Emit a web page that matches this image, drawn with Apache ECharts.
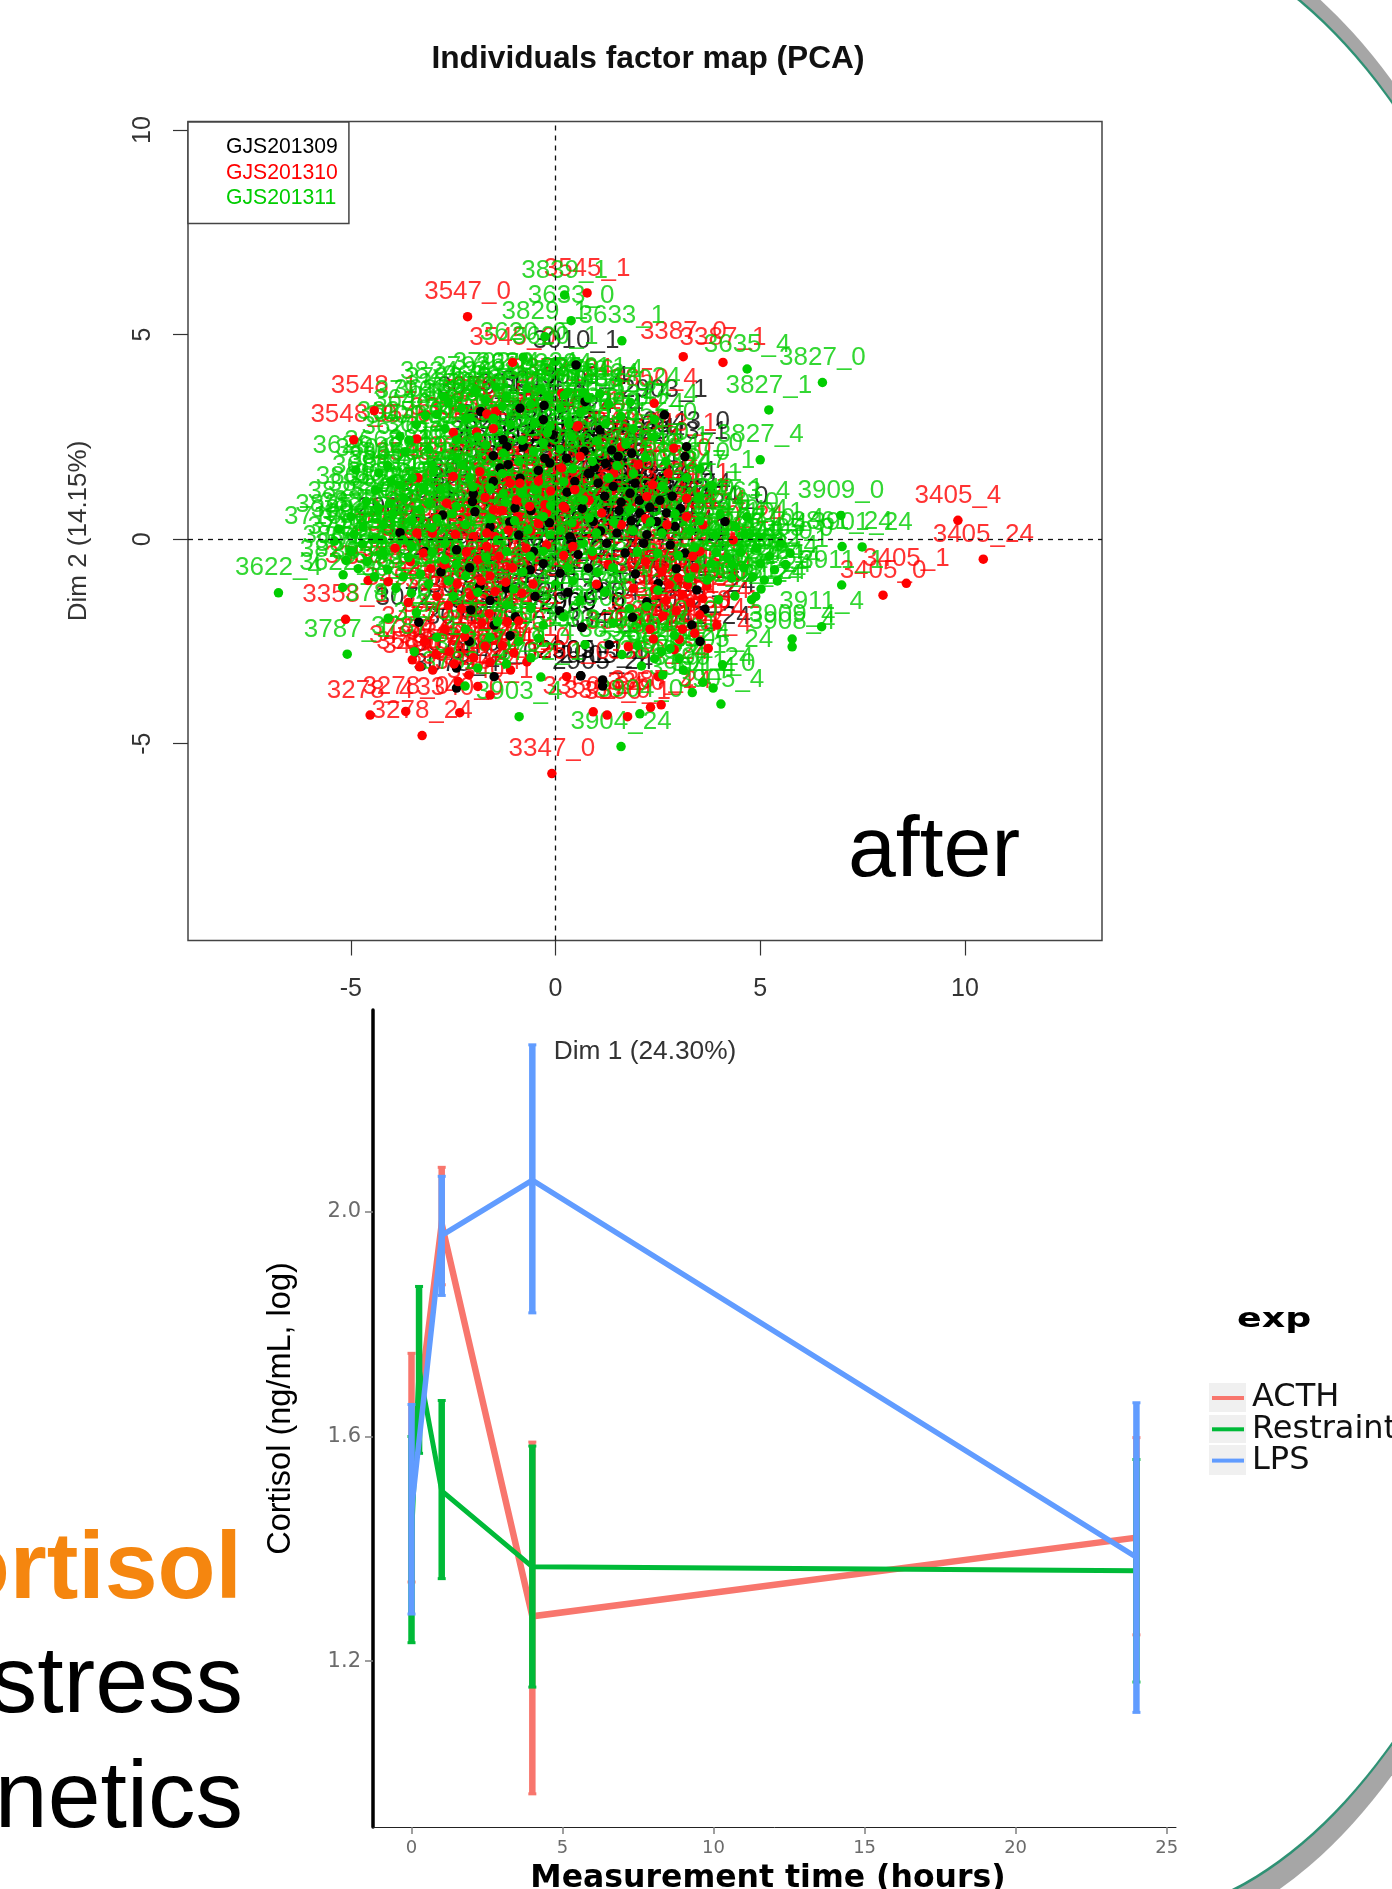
<!DOCTYPE html>
<html><head><meta charset="utf-8">
<style>html,body{margin:0;padding:0;background:#fff;overflow:hidden}#c{width:1392px;height:1889px}</style>
<script src="https://cdn.jsdelivr.net/npm/echarts@6/dist/echarts.min.js"></script>
</head><body><div id="c"></div>
<script>
// Individuals factor map: [dim1, dim2, label]
const batch09 = [
[.5,4.26,'3010_1'],[-.28,3.27,'3017_0'],[-.87,3.2,'3011_4'],[-1.83,3.12,'3076_1'],[.72,3.36,'3013_4'],[-.3,2.92,'2904_0'],[-1.28,2.43,'3017_1'],[-1.19,2.26,'3012_0'],[-.79,2.26,'2967_4'],[-1.52,2.04,'3076_4'],[-1.16,1.82,'3011_24'],[-1.36,1.74,'2903_24'],[-.26,1.98,'3010_0'],[-.14,1.86,'3012_4'],[.27,1.98,'2904_1'],[-.42,1.68,'3076_0'],[-.06,2.55,'2967_1'],[.47,1.41,'3010_24'],[-2.01,1.11,'3017_4'],[-2.03,.92,'2903_0'],[-1.97,.67,'3013_0'],[-2.76,.59,'3011_0'],[-3.8,.16,'2908_1'],[.39,-.02,'2908_0'],[-.87,1.49,'3012_1'],[-1.52,1.41,'2967_0'],[-.99,.76,'2908_4'],[-2.42,-.26,'3013_1'],[-.54,-.3,'2904_4'],[.8,1.61,'2908_24'],
[3.2,2.26,'2943_0'],[3.16,2.02,'2943_1'],[2.66,3.04,'2903_1'],[1.86,2.1,'2943_4'],[1.37,2.18,'3024_0'],[1.53,2.02,'3024_1'],[1.08,2.67,'3024_4'],[.84,1.61,'3024_24'],[1.04,1.37,'2943_24'],[1.41,1.29,'2960_0'],[1.82,1.12,'2960_1'],[1.94,1.37,'2960_4'],[2.06,.64,'2960_24'],[2.47,.43,'3117_4'],[2.71,.64,'3117_0'],[2.92,.31,'3117_1'],[2.23,.11,'3117_24'],[4.14,.43,'2954_0'],[3.16,-.34,'2954_1'],[.92,.43,'2954_4'],[1.25,-.1,'2954_24'],[.35,.06,'3030_0'],[1.7,-.34,'3030_1'],[2.8,-.14,'3030_4'],
[.8,-.71,'3030_24'],[.11,-.83,'3041_0'],[3.45,-1.24,'3041_1'],[2.51,-1.08,'3041_4'],[3.53,-2.5,'3041_24'],[3.33,-2.1,'3052_1'],[3.65,-1.71,'3007_24'],[1.88,-1.91,'2904_24'],[2.23,-1.53,'3052_0'],[.64,-2.15,'2905_0'],[.61,-3.34,'2905_1'],[1.15,-3.44,'2905_4'],[1.15,-3.59,'2905_24'],[1.31,-2.58,'3340_0'],[-3.34,-2.03,'3072_1'],[-2.42,-3.15,'3072_0'],[-2.42,-3.64,'3078_4'],[-1.5,-3.36,'3078_0'],[-2.11,-2.5,'3078_1'],[-1.11,-2.36,'3078_24'],[-2.07,-1.73,'3072_4'],[.62,-3.34,'2909_1'],[.65,-2.16,'2909_0'],
[-1.6,.3,'3065_0'],[-.9,.1,'3065_1'],[-.3,-.6,'3065_4'],[-1.2,-1.2,'3065_24'],[-2.1,-.7,'3091_0'],[-1.6,-1.5,'3091_1'],[-.5,-1.4,'3091_4'],[.3,-1.3,'3091_24'],[-2.8,-.8,'3102_0'],[-3.2,-.3,'3102_1'],[-.6,.7,'3102_4'],[1.6,.9,'3102_24'],[.2,.8,'3120_0'],[-1.5,-2.1,'3120_1'],[1.1,.2,'3120_4'],
[1.2,1.05,'3122_0'],[1.55,.7,'3122_1'],[1.85,.45,'3122_4'],[2.05,.95,'3122_24'],[2.3,.78,'3134_0'],[2.55,.95,'3134_1'],[2.85,1.05,'3134_4'],[3.05,.75,'3134_24'],[2.6,.2,'3141_0'],[2.15,-.1,'3141_1'],[1.5,.15,'3141_4'],[.65,.75,'3141_24'],[.95,1.75,'3150_0'],[1.22,1.85,'3150_1'],[.7,2.15,'3150_4'],[.28,1.15,'3150_24'],[-.15,.4,'3163_0'],[-.62,-.75,'3163_1'],[-1.85,-1.15,'3163_4'],[-.98,-1.9,'3163_24'],[.1,-1.75,'3170_0'],[1.05,-1.15,'3170_1'],[1.95,-.85,'3170_4'],[2.95,-.72,'3170_24'],[.55,-.38,'3182_0'],[-1.12,.42,'3182_1']
];
const batch10 = [
[9.83,.46,'3405_4'],[10.45,-.49,'3405_24'],[8.57,-1.08,'3405_1'],[8,-1.37,'3405_0'],[-.09,-5.73,'3347_0'],[-2.15,5.44,'3547_0'],[.77,6.02,'3545_1'],[3.12,4.46,'3387_0'],[4.09,4.32,'3387_1'],[-4.43,3.14,'3548_1'],[-4.93,2.43,'3548_0'],[-3.39,2.45,'3546_4'],[-3.36,1.5,'3546_1'],[-1.05,4.32,'3545_0'],[2.41,3.32,'3850_4'],[2.89,2.22,'3843_1'],
[-4.53,-4.3,'3278_4'],[-3.66,-4.21,'3278_0'],[-2.34,-4.24,'3340_0'],[-3.26,-4.8,'3278_24'],[-1.6,-3.81,'3340_1'],[-1.9,-3.6,'3340_4'],[-2.38,-3.48,'3340_24'],[-4.58,-1.01,'3358_0'],[-5.13,-1.96,'3358_1'],[-4.09,-1.04,'3358_4'],[.92,-4.22,'3350_24'],[1.26,-4.3,'3350_0'],[1.76,-4.34,'3350_1'],[2.32,-4.11,'3350_4'],[2.58,-4.05,'3387_24'],[3.73,-2.67,'3387_4'],[2.39,-2.44,'3359_0'],[2.31,-2.2,'3359_1'],[1.78,-2.63,'3359_4'],[.27,-3.36,'3360_0'],[2.51,-3.36,'3360_24'],[3.94,-2.1,'3360_1'],
[2.75,1.61,'3846_0'],[1.61,2.26,'3846_1'],[.6,2.02,'3846_24'],[.47,.35,'3368_0'],[1.61,.35,'3368_1'],[1.13,.64,'3368_4'],[2.23,1.04,'3368_24'],[2.37,1.33,'3370_0'],[3.2,1,'3370_1'],[3.2,.55,'3546_4'],[4.34,-.02,'3370_24'],[.23,.76,'3372_0'],[.55,2.77,'3372_1'],[3.53,-.3,'3372_4'],[.15,3.57,'3372_24'],
[-1.68,3.06,'3381_0'],[-1.46,3.12,'3381_1'],[-2.5,2.61,'3381_4'],[-1.93,2.62,'3381_24'],[-1.52,2.7,'3394_0'],[-2.5,1.53,'3394_1'],[.15,1.74,'3394_4'],[-1.85,1.65,'3394_24'],[-1.11,1.37,'3401_0'],[-.87,1.37,'3401_1'],[-.95,.96,'3401_4'],[-.63,.8,'3401_24'],[-.26,.84,'3412_0'],[-.22,.64,'3412_1'],[.19,.8,'3412_4'],[.47,1.21,'3412_24'],[-2.66,.88,'3420_0'],[-1.52,.72,'3420_1'],[-1.3,.7,'3420_4'],[-3.39,.15,'3420_24'],[-3.01,.15,'3433_0'],[-2.01,.06,'3433_1'],[-1.68,.15,'3433_4'],[-1.48,.06,'3433_24'],[-.22,-.14,'3446_0'],[-3.23,-.34,'3446_1'],[-1.68,-.18,'3446_4'],[.52,2.75,'3446_24'],
[-1.9,-.5,'3458_0'],[-1.6,-.9,'3458_1'],[-1.05,-.7,'3458_4'],[-.55,-1.1,'3458_24'],[-2.4,-1.1,'3463_0'],[-2.9,-1.4,'3463_1'],[-2.3,-1.7,'3463_4'],[-1.8,-2.05,'3463_24'],[-2.7,-2.2,'3477_0'],[-3.2,-2.5,'3477_1'],[-2.6,-2.75,'3477_4'],[-2,-2.9,'3477_24'],[-1.3,-2.6,'3489_0'],[-.9,-2,'3489_1'],[-1.6,-3,'3489_4'],[-1.1,-3.2,'3489_24'],[-.7,-3,'3490_0'],[-3.6,-1.55,'3490_1'],[-3.5,-2.95,'3490_4'],[-3,-3.2,'3490_24'],
[2.6,-.8,'3502_0'],[3,-.95,'3502_1'],[3.4,-.7,'3502_4'],[2.2,-.55,'3502_24'],[3.7,-1.15,'3515_0'],[3.1,-1.35,'3515_1'],[2.7,-1.5,'3515_4'],[3.3,-1.55,'3515_24'],[3.6,-1.45,'3528_0'],[2.95,-1.75,'3528_1'],[3.1,-2.2,'3528_4'],[3.4,-2.3,'3528_24'],[2.9,-2.7,'3534_0'],[1.9,-1.2,'3534_1'],[1,-1.1,'3534_4'],[.2,-.4,'3534_24'],[-.6,.2,'3539_0'],[.9,-.4,'3539_1'],[2.2,.5,'3539_4'],[3.6,.35,'3646_4'],
[-2.2,.32,'3551_0'],[-2.45,.12,'3551_1'],[-1.15,.22,'3551_4'],[-.92,.55,'3551_24'],[-.42,.38,'3558_0'],[-.72,-.22,'3558_1'],[-1.38,-.42,'3558_4'],[-2.18,-.32,'3558_24'],[-2.72,-.62,'3562_0'],[-3.05,-.72,'3562_1'],[-1.22,-1.05,'3562_4'],[-.82,-1.32,'3562_24'],[-1.48,-1.28,'3569_0'],[-2.08,-1.38,'3569_1'],[-2.62,-1.62,'3569_4'],[-1.62,-1.82,'3569_24'],[-1.18,-2.02,'3574_0'],[-2.22,-2.38,'3574_1'],[-2.92,-2.82,'3574_4'],[-2.48,-3.05,'3574_24'],[-1.72,-2.62,'3580_0'],[-1.02,-2.78,'3580_1'],[-3.32,-3.12,'3580_4'],[-2.12,-3.32,'3580_24'],[-1.82,-1.02,'3587_0'],[-3.55,-.55,'3587_1'],[-3.92,-.22,'3587_4'],[-2.92,.52,'3587_24'],[-.42,1.42,'3593_0'],[-1.72,1.02,'3593_1'],[-.12,1.18,'3593_4'],[.82,.95,'3593_24'],[1.42,1.62,'3602_0'],[2.02,1.82,'3602_1'],[.42,-.18,'3602_4'],[1.28,-.62,'3602_24'],[2.42,-1.22,'3608_0'],[2.78,-1.12,'3608_1'],[3.22,-1.12,'3608_4'],[3.52,-1.85,'3608_24'],[2.62,-1.88,'3612_0'],[3.02,-2.45,'3612_1'],[3.35,-.42,'3612_4'],[2.72,.35,'3612_24']
];
const batch11 = [
[-6.77,-1.31,'3622_4'],[-5.19,-.87,'3826_4'],[-5.2,-1.18,'3622_1'],[-5.09,-2.81,'3787_1'],[-4.09,-1.93,'3787_0'],[-2.21,-3.59,'3782_4'],[-.36,-3.37,'3782_1'],[-.89,-4.34,'3903_4'],[-3.45,-2.75,'3787_4'],[1.6,-5.07,'3904_24'],[2.06,-4.27,'3904_0'],[3.34,-3.75,'3904_4'],[3.85,-3.64,'3911_0'],[4.04,-4.03,'3905_4'],[4.08,-3.07,'3905_24'],[5.78,-2.44,'3909_4'],[5.78,-2.63,'3908_4'],[6.5,-2.14,'3911_4'],[6.99,-1.12,'3911_1'],[7,-.18,'3861_24'],[7.49,-.19,'3901_24'],[5.73,-.34,'3905_0'],[6.97,.58,'3909_0'],[4.67,.55,'3763_4'],[4.89,-1.4,'3908_24'],[4.79,-1.48,'3909_24'],[4.38,-1.39,'3905_1'],[3.98,-1.48,'3903_24'],[2.8,-2.67,'3903_0'],[2.59,-2.75,'3904_1'],[3.12,-3.2,'3909_1'],[.72,-2.58,'3908_0'],[1.41,-2.05,'3908_1'],[2.23,-1.65,'3911_24'],
[6.52,3.83,'3827_0'],[5.21,3.16,'3827_1'],[5,1.94,'3827_4'],[4.68,4.16,'3635_4'],[1.62,4.85,'3633_1'],[.22,5.97,'3839_1'],[.38,5.34,'3633_0'],[-.26,4.95,'3829_1'],[-4.88,1.69,'3626_1'],[-3.8,2.51,'3625_0'],[-3.68,2.14,'3626_4'],[-.79,4.45,'3620_0'],[-.01,4.34,'3620_1'],[-2.74,3.49,'3824_0'],[-2.09,2.96,'3824_1'],[-.5,2.84,'3820_0'],[-.14,2.75,'3820_1'],[-.3,2.35,'3820_4'],[-1.28,2.1,'3820_24'],[-.54,2.14,'3903_1'],[-2.29,1.82,'3826_0'],[-1.6,1.25,'3826_1'],[-1.28,1.11,'3826_24'],[-2.42,.8,'3829_0'],[-2.99,1.65,'3829_4'],[-4.33,.76,'3829_24'],[-4.05,.88,'3625_1'],[.68,.96,'3625_4'],[-.14,.1,'3625_24'],[.68,-.1,'3626_0'],[-.67,.23,'3626_24'],[-3.72,-.02,'3622_0'],[-2.7,-.1,'3622_24'],[-4.21,-.34,'3633_4'],
[-2.3,3.2,'3630_0'],[-1.7,3.4,'3630_1'],[-1.2,3.5,'3630_4'],[-.7,3.7,'3630_24'],[-.2,3.5,'3635_0'],[.3,3.6,'3635_1'],[.8,3.45,'3635_24'],[1.3,3.3,'3638_0'],[-2.9,3.05,'3638_1'],[-2.2,2.95,'3638_4'],[-1.3,3.25,'3638_24'],[-.6,3.3,'3641_0'],[.1,3.2,'3641_1'],[.6,3.1,'3641_4'],[1.6,3,'3641_24'],[-3.4,2.8,'3644_0'],[-2.7,2.7,'3644_1'],[-1.9,2.5,'3644_4'],[-1.1,2.8,'3644_24'],[-.2,2.6,'3650_0'],[.4,2.5,'3650_1'],[1,2.4,'3650_4'],[1.9,2.7,'3650_24'],[2.4,2.5,'3655_0'],[-3.1,2.2,'3655_1'],[-2.4,2,'3655_4'],[-1.7,2.3,'3655_24'],[-.9,1.9,'3661_0'],[.1,2.2,'3661_1'],[.9,1.9,'3661_4'],[1.5,1.8,'3661_24'],[2.2,2,'3668_0'],[2.7,1.9,'3668_1'],
[-4.1,1.8,'3668_4'],[-3.5,1.5,'3668_24'],[-2.8,1.2,'3673_0'],[-2.1,1.5,'3673_1'],[-1.3,1.6,'3673_4'],[-.5,1.2,'3673_24'],[.2,1.4,'3680_0'],[1.3,1.5,'3680_1'],[1.9,1.6,'3680_4'],[2.6,1.3,'3680_24'],[3.2,1.5,'3686_0'],[3.5,1,'3686_1'],[-4.4,1.2,'3686_4'],[-3.7,1,'3686_24'],[-3.1,.9,'3690_0'],[-5,.55,'3825_0'],[-5.3,.25,'3825_1'],[-4.7,.3,'3825_4'],[-4.2,.35,'3825_24'],[-3.5,.45,'3692_0'],[-2.9,.5,'3692_1'],[-2.2,.35,'3692_4'],[-1.6,.5,'3692_24'],[-1,.45,'3698_0'],[-.3,.55,'3698_1'],[.4,.4,'3698_4'],[1,.15,'3698_24'],[1.9,.2,'3703_0'],[2.6,.15,'3703_1'],[3.3,.2,'3703_4'],[3.9,.1,'3703_24'],[4.4,.3,'3710_0'],[5,.05,'3710_1'],[5.5,-.1,'3710_4'],
[-5.4,-.05,'3710_24'],[-5,-.3,'3715_0'],[-4.6,-.55,'3715_1'],[-4.1,-.75,'3715_4'],[-3.6,-.45,'3715_24'],[-3.3,-.85,'3722_0'],[-2.7,-.5,'3722_1'],[-2.2,-.9,'3722_4'],[-1.7,-.45,'3722_24'],[-1.2,-.3,'3728_0'],[-.8,-.8,'3728_1'],[-.3,-.3,'3728_4'],[.3,-.7,'3728_24'],[.9,-.3,'3733_0'],[1.4,-.7,'3733_1'],[2,-.3,'3733_4'],[2.5,-.35,'3733_24'],[3,-.4,'3741_0'],[3.4,-.2,'3741_1'],[3.8,-.6,'3741_4'],[4.2,-.45,'3741_24'],[4.6,-.7,'3746_0'],[5,-.6,'3746_1'],[5.35,-.75,'3746_4'],[4.3,-.95,'3746_24'],[3.7,-1,'3752_0'],[5.1,-1,'3752_1'],
[-3.9,-1.2,'3752_4'],[-3.1,-1.1,'3752_24'],[-2.5,-1.4,'3760_0'],[-1.9,-1.3,'3760_1'],[-1.2,-1.6,'3760_4'],[-.6,-1.7,'3760_24'],[0,-1.1,'3766_0'],[.6,-1.5,'3766_1'],[1.2,-1.3,'3766_4'],[1.8,-1.7,'3766_24'],[2.5,-1.25,'3770_0'],[-3.4,-1.8,'3770_1'],[-2.9,-2.4,'3770_4'],[-2.2,-2.2,'3770_24'],[-1.6,-2.4,'3775_0'],[-.9,-2.5,'3775_1'],[-.3,-2.1,'3775_4'],[.2,-1.9,'3775_24'],[-1.9,-3.15,'3778_0'],[-1.2,-3.05,'3778_1'],[-.6,-2.9,'3778_4'],[2,-2.6,'3778_24'],[2.9,-2.35,'3790_0'],[3.25,-.95,'3790_1'],[2.1,-3.1,'3790_4'],[3.6,-3.5,'3790_24'],
[-2.62,3.35,'3792_0'],[-1.95,3.62,'3792_1'],[-1.45,3.72,'3792_4'],[-.35,3.68,'3792_24'],[.22,3.52,'3796_0'],[.68,3.58,'3796_1'],[1.08,3.55,'3796_4'],[-3.18,3.02,'3796_24'],[-3.58,2.42,'3801_0'],[-4.02,1.42,'3801_1'],[-4.32,1.62,'3801_4'],[-4.62,.92,'3801_24'],[-4.92,.12,'3804_0'],[-5.12,-.52,'3804_1'],[-4.72,-.12,'3804_4'],[-4.42,.02,'3804_24'],[-3.98,.62,'3808_0'],[-3.32,.72,'3808_1'],[-3.02,.28,'3808_4'],[-3.22,1.22,'3808_24'],[-2.52,.62,'3811_0'],[-2.02,1.28,'3811_1'],[-1.22,.92,'3811_4'],[-.82,1.12,'3811_24'],[-.12,.82,'3814_0'],[.42,1.72,'3814_1'],[.32,2.82,'3814_4'],[-.82,2.42,'3814_24'],[-1.52,2.95,'3817_0'],[-2.42,2.42,'3817_1'],[-3.02,1.82,'3817_4'],[-3.82,1.32,'3817_24'],[-4.22,-.02,'3830_0'],[-3.52,-.18,'3830_1'],[-3.02,-.32,'3830_4'],[-2.42,-.62,'3830_24'],[-3.72,-.92,'3832_0'],[-4.42,-.92,'3832_1'],[-4.82,-.72,'3832_4'],[-3.52,-1.32,'3832_24'],[-1.42,-.02,'3835_0'],[-.62,-.42,'3835_1'],[.12,.22,'3835_4'],[.82,.52,'3835_24'],[1.42,.42,'3837_0'],[1.82,.72,'3837_1'],[2.32,.42,'3837_4'],[2.92,.62,'3837_24'],[3.52,.45,'3840_0'],[4.02,.62,'3840_1'],[4.62,.12,'3840_4'],[4.92,-.22,'3840_24'],[5.22,-.42,'3842_0'],[5.62,-.62,'3842_1'],[5.42,-1.02,'3842_4'],[4.82,-.92,'3842_24'],[4.32,-.62,'3844_0'],[3.92,-.32,'3844_1'],[4.52,-.32,'3844_4'],[5.02,-1.22,'3844_24'],[3.52,1.72,'3847_0'],[3.82,1.32,'3847_1'],[2.42,2.92,'3847_4'],[1.82,3.35,'3847_24'],[1.22,2.82,'3849_0'],[1.72,2.32,'3849_1'],[2.62,-3.32,'3849_4'],[3.02,-2.92,'3849_24'],[2.42,-2.92,'3852_0'],[1.62,-2.82,'3852_1'],[.42,-1.02,'3852_4'],[1.02,-.82,'3852_24'],[-.42,-2.42,'3855_0'],[-1.02,-1.22,'3855_1'],[-2.62,-1.02,'3855_4'],[-1.42,-2.02,'3855_24']
];
const cortisolTicks = [1.2,1.6,2.0];
const hourTicks = [0,5,10,15,20,25];
const dimTicksX = [-5,0,5,10];
const dimTicksY = [-5,0,5,10];
const acthMean = [[0,1.55],[1,1.978],[4,1.28],[24,1.42]];
const restraintMean = [[0,1.42],[.25,1.72],[1,1.503],[4,1.368],[24,1.361]];
const lpsMean = [[0,1.47],[1,1.958],[4,2.056],[24,1.385]];
const acthErr = [[0,1.341,1.748],[1,1.87,2.079],[4,.964,1.59],[24,1.247,1.598]];
const restraintErr = [[0,1.233,1.6],[.25,1.57,1.867],[1,1.347,1.664],[4,1.154,1.583],[24,1.163,1.559]];
const lpsErr = [[0,1.284,1.657],[1,1.851,2.063],[4,1.82,2.297],[24,1.109,1.66]];

const RED='#FF0000',GREEN='#00CD00',BLACK='#000000';
const C_ACTH='#F8766D',C_RES='#00BA38',C_LPS='#619CFF';
const sans='"Liberation Sans"',dv='"DejaVu Sans"';

function labelSeries(name,data,color){
  return {type:'scatter',name:name+' labels',xAxisIndex:0,yAxisIndex:0,z:2,silent:true,symbol:'circle',symbolSize:1,
    itemStyle:{color:'transparent'},data:data.map(d=>({value:[d[0],d[1]],name:d[2]})),
    label:{show:true,position:'top',distance:11,formatter:p=>p.name,color:color,fontFamily:sans,fontSize:26}};
}
function dotSeries(name,data,color,z){
  return {type:'scatter',name:name,xAxisIndex:0,yAxisIndex:0,z:z,symbol:'circle',symbolSize:9.5,
    itemStyle:{color:color,opacity:1},data:data.map(d=>[d[0],d[1]])};
}
function errSeries(name,data,color,z,w){
  return {type:'custom',name:name,xAxisIndex:1,yAxisIndex:1,z:z,clip:false,data:data,encode:{x:0,y:[1,2]},
    renderItem:(p,api)=>{
      const x=api.value(0),lo=api.coord([x,api.value(1)]),hi=api.coord([x,api.value(2)]);
      const st={stroke:color,lineWidth:w,fill:null};
      const cap=(q)=>({type:'line',shape:{x1:q[0]-4,y1:q[1],x2:q[0]+4,y2:q[1]},style:{stroke:color,lineWidth:3}});
      return {type:'group',children:[{type:'line',shape:{x1:lo[0],y1:lo[1],x2:hi[0],y2:hi[1]},style:st},cap(lo),cap(hi)]};
    }};
}
function lineSeries(name,data,color,z,w){
  return {type:'line',name:name,xAxisIndex:1,yAxisIndex:1,z:z,data:data,symbol:'none',showSymbol:false,
    itemStyle:{color:color},lineStyle:{color:color,width:w,join:'miter',cap:'butt'}};
}
const chart=echarts.init(document.getElementById('c'),null,{renderer:'canvas',width:1392,height:1889});
chart.setOption({
  animation:false,backgroundColor:'#ffffff',
  title:[{text:'Individuals factor map (PCA)',left:643,top:38,textAlign:'center',textStyle:{fontFamily:sans,fontWeight:'bold',fontSize:31.7,color:'#111'}}],
  grid:[
    {left:188,top:121.5,width:914,height:819,show:true,backgroundColor:'transparent',borderColor:'#444',borderWidth:1.5,containLabel:false,outerBoundsMode:'none'},
    {left:373,top:1010,width:803,height:817,show:false,containLabel:false,outerBoundsMode:'none'}
  ],
  xAxis:[
    {gridIndex:0,type:'value',min:-8.98,max:13.35,splitLine:{show:false},axisLine:{show:false,onZero:false},
     axisTick:{show:true,length:15,customValues:dimTicksX,lineStyle:{color:'#333',width:1.2}},
     axisLabel:{customValues:dimTicksX,margin:36,fontFamily:sans,fontSize:25,color:'#333'},
     name:'Dim 1 (24.30%)',nameLocation:'middle',nameGap:98,nameTextStyle:{fontFamily:sans,fontSize:26.3,color:'#333'}},
    {gridIndex:1,type:'value',min:-1.275,max:25.31,splitLine:{show:false},axisLine:{show:true,onZero:false,lineStyle:{color:'#222',width:1}},
     axisTick:{show:true,length:7,customValues:hourTicks,lineStyle:{color:'#7f7f7f',width:1.5}},
     axisLabel:{customValues:hourTicks,margin:12,fontFamily:dv,fontSize:18,color:'#6b6b6b'},
     name:'Measurement time (hours)',nameLocation:'middle',nameGap:36,
     nameTextStyle:{fontFamily:dv,fontWeight:'bold',fontSize:31.5,color:'#000',padding:[0,13,0,0]}}
  ],
  yAxis:[
    {gridIndex:0,type:'value',min:-9.81,max:10.21,splitLine:{show:false},axisLine:{show:false,onZero:false},
     axisTick:{show:true,length:15,customValues:dimTicksY,lineStyle:{color:'#333',width:1.2}},
     axisLabel:{customValues:dimTicksY,rotate:90,margin:32,fontFamily:sans,fontSize:25,color:'#333'},
     name:'Dim 2 (14.15%)',nameLocation:'middle',nameGap:96,nameRotate:90,nameTextStyle:{fontFamily:sans,fontSize:26,color:'#333'}},
    {gridIndex:1,type:'value',min:.905,max:2.359,splitLine:{show:false},axisLine:{show:true,onZero:false,lineStyle:{color:'#000',width:3.5}},
     axisTick:{show:true,length:8,customValues:cortisolTicks,lineStyle:{color:'#7f7f7f',width:1.5}},
     axisLabel:{customValues:cortisolTicks,margin:12,formatter:v=>v.toFixed(1),fontFamily:dv,fontSize:21,color:'#6b6b6b'},
     name:'Cortisol (ng/mL, log)',nameLocation:'middle',nameGap:75,nameRotate:90,
     nameTextStyle:{fontFamily:sans,fontSize:32.5,color:'#000',padding:[0,0,0,20]}}
  ],
  legend:[
    {left:188,top:122,orient:'vertical',padding:[15,11,15,38],itemGap:4.3,itemWidth:0,itemHeight:0,icon:'rect',selectedMode:false,
     borderColor:'#444',borderWidth:1.5,backgroundColor:'#fff',z:6,
     textStyle:{fontFamily:sans,fontSize:21.2,padding:[0,0,0,-5]},
     data:[{name:'GJS201309',textStyle:{color:BLACK}},{name:'GJS201310',textStyle:{color:RED}},{name:'GJS201311',textStyle:{color:GREEN}}]},
    {left:1212,top:1382,orient:'vertical',padding:0,itemGap:-.7,itemWidth:32,itemHeight:4,icon:'rect',selectedMode:false,z:6,
     textStyle:{fontFamily:dv,fontSize:32,color:'#111',padding:[0,0,0,3]},
     data:['ACTH','Restraint','LPS']}
  ],
  graphic:{elements:[
    {type:'circle',x:1122,y:928,z:-5,silent:true,scaleX:.483,shape:{cx:0,cy:0,r:1015},style:{fill:'#A6A6A6'}},
    {type:'circle',x:1115,y:923,z:-4,silent:true,scaleX:.49,shape:{cx:0,cy:0,r:998},style:{fill:'#2E9174'}},
    {type:'circle',x:1115,y:923,z:-3,silent:true,scaleX:.49,shape:{cx:0,cy:0,r:995},style:{fill:'#ffffff'}},
    {type:'rect',z:-2,silent:true,shape:{x:0,y:0,width:1212,height:1889},style:{fill:'#ffffff'}},
    {type:'text',x:242,y:1619,z:1,silent:true,style:{text:'ortisol',font:'bold 95px "Liberation Sans"',fill:'#F5860F',textAlign:'right',textVerticalAlign:'bottom'}},
    {type:'text',x:243,y:1733,z:1,silent:true,style:{text:'stress',font:'95px "Liberation Sans"',fill:'#000',textAlign:'right',textVerticalAlign:'bottom'}},
    {type:'text',x:243,y:1848,z:1,silent:true,style:{text:'netics',font:'95px "Liberation Sans"',fill:'#000',textAlign:'right',textVerticalAlign:'bottom'}},
    {type:'text',x:848,y:895,z:10,silent:true,style:{text:'after',font:'86px "Liberation Sans"',fill:'#000',textAlign:'left',textVerticalAlign:'bottom'}},
    {type:'text',x:1237,y:1320,z:6,silent:true,scaleX:1.4,style:{text:'exp',font:'bold 26px "DejaVu Sans"',fill:'#000',textAlign:'left',textVerticalAlign:'middle'}},
    {type:'rect',z:1,silent:true,shape:{x:1209,y:1383,width:37,height:29},style:{fill:'#F0F0F0'}},
    {type:'rect',z:1,silent:true,shape:{x:1209,y:1415,width:37,height:28},style:{fill:'#F0F0F0'}},
    {type:'rect',z:1,silent:true,shape:{x:1209,y:1445,width:37,height:30},style:{fill:'#F0F0F0'}}
  ]},
  series:[
    {type:'scatter',name:'guides',xAxisIndex:0,yAxisIndex:0,z:1,data:[],silent:true,
     markLine:{silent:true,symbol:'none',label:{show:false},animation:false,lineStyle:{color:'#111',type:[5,5],width:1.3},data:[{xAxis:0},{yAxis:0}]}},
    labelSeries('GJS201309',batch09,BLACK),labelSeries('GJS201310',batch10,RED),labelSeries('GJS201311',batch11,GREEN),
    dotSeries('GJS201309',batch09,BLACK,3),dotSeries('GJS201310',batch10,RED,3),dotSeries('GJS201311',batch11,GREEN,3),
    lineSeries('ACTH',acthMean,C_ACTH,3,6.5),errSeries('ACTH',acthErr,C_ACTH,3,6.5),
    lineSeries('Restraint',restraintMean,C_RES,4,5),errSeries('Restraint',restraintErr,C_RES,4,6.5),
    lineSeries('LPS',lpsMean,C_LPS,5,5.5),errSeries('LPS',lpsErr,C_LPS,5,6.5)
  ]
});
</script></body></html>
